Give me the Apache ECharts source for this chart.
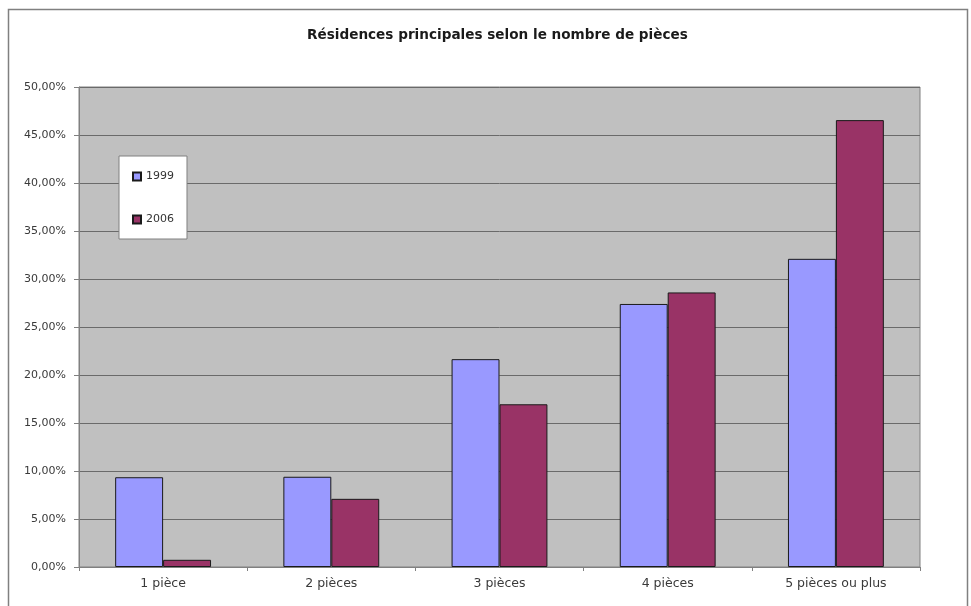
<!DOCTYPE html>
<html>
<head>
<meta charset="utf-8">
<script src="https://cdn.jsdelivr.net/npm/echarts@6/dist/echarts.min.js"></script>
<style>
  html, body { margin: 0; padding: 0; background: #ffffff; }
  #chart { width: 971px; height: 606px; }
</style>
</head>
<body>
<div id="chart"></div>
<script>
// Share of main residences by number of rooms (percent)
const categories = ['1 pièce', '2 pièces', '3 pièces', '4 pièces', '5 pièces ou plus'];
const values1999 = [9.35, 9.4, 21.65, 27.4, 32.1];
const values2006 = [0.75, 7.1, 16.95, 28.6, 46.55];
const seriesNames = ['1999', '2006'];

const FONT = '"DejaVu Sans", Arial, sans-serif';

const chart = echarts.init(document.getElementById('chart'), null, { renderer: 'canvas' });

const pct = v => v.toFixed(2).replace('.', ',') + '%';

chart.setOption({
  animation: false,
  backgroundColor: '#ffffff',
  textStyle: { fontFamily: FONT },
  title: {
    text: 'Résidences principales selon le nombre de pièces',
    left: 307,
    top: 28,
    itemGap: 0,
    padding: 0,
    textStyle: { fontFamily: FONT, fontSize: 13.6, fontWeight: 'bold', color: '#1a1a1a' }
  },
  graphic: [{
    type: 'rect',
    shape: { x: 8.5, y: 9.5, width: 959, height: 620 },
    style: { fill: 'none', stroke: '#808080', lineWidth: 1.5 },
    z: -1
  }],
  legend: {
    orient: 'vertical',
    left: 119,
    top: 156,
    padding: [15, 13, 14, 13],
    itemGap: 32,
    itemWidth: 8,
    itemHeight: 8,
    icon: 'rect',
    backgroundColor: '#ffffff',
    borderColor: '#808080',
    borderWidth: 1,
    textStyle: { fontFamily: FONT, fontSize: 11, lineHeight: 11, color: '#333', padding: [0, 0, 0, 0] },
    data: seriesNames
  },
  grid: {
    left: 79, right: 51, top: 87, bottom: 39,
    show: true,
    backgroundColor: '#C0C0C0',
    borderColor: '#808080',
    borderWidth: 1
  },
  xAxis: {
    type: 'category',
    data: categories,
    axisLine: { lineStyle: { color: '#808080', width: 1 } },
    axisTick: { show: true, length: 4, lineStyle: { color: '#808080' } },
    axisLabel: { fontFamily: FONT, fontSize: 12.5, color: '#3a3a3a', margin: 10 }
  },
  yAxis: {
    type: 'value',
    min: 0, max: 50, interval: 5,
    axisLine: { show: true, lineStyle: { color: '#808080', width: 1 } },
    axisTick: { show: true, length: 5, lineStyle: { color: '#808080' } },
    axisLabel: { fontFamily: FONT, fontSize: 11, color: '#3a3a3a', margin: 13, formatter: pct },
    splitLine: { show: true, lineStyle: { color: '#6a6a6a', width: 1 } }
  },
  series: [
    {
      name: seriesNames[0],
      type: 'bar',
      data: values1999,
      barGap: '0%',
      barCategoryGap: '43%',
      itemStyle: { color: '#9999FF', borderColor: '#1a1a1a', borderWidth: 1 }
    },
    {
      name: seriesNames[1],
      type: 'bar',
      data: values2006,
      barGap: '0%',
      barCategoryGap: '43%',
      itemStyle: { color: '#993366', borderColor: '#1a1a1a', borderWidth: 1 }
    }
  ]
});
</script>
</body>
</html>
